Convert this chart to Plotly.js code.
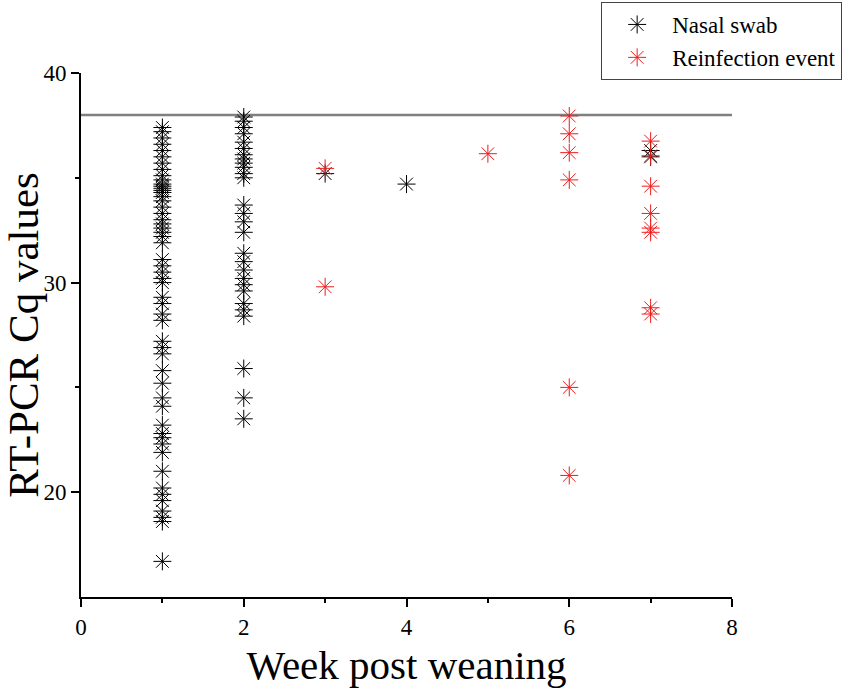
<!DOCTYPE html>
<html>
<head>
<meta charset="utf-8">
<script src="https://cdn.plot.ly/plotly-3.0.1.min.js"></script>
<style>html,body{margin:0;padding:0;background:#fff;}#chart{width:851px;height:694px;}</style>
</head>
<body>
<div id="chart"></div>
<script>
// Nasal swab (black) values by week
const week1Cq = [37.4, 37.2, 36.9, 36.6, 36.3, 36.0, 35.7, 35.4, 35.1, 34.9, 34.7, 34.6, 34.5, 34.4, 34.3, 34.1, 33.9, 33.6, 33.3, 33.0, 32.8, 32.6, 32.4, 32.2, 31.9,
  31.1, 30.8, 30.5, 30.2, 30.0, 29.3, 29.0, 28.5, 28.2,
  27.2, 26.9, 26.6, 25.8, 25.2, 24.5, 24.1,
  23.2, 22.8, 22.6, 22.3, 21.9, 21.0, 20.2, 19.9, 19.6, 19.1, 18.8, 18.6, 16.7];
const week2Cq = [37.9, 37.7, 37.4, 37.1, 36.7, 36.4, 36.1, 35.9, 35.7, 35.5, 35.2, 35.0,
  33.7, 33.3, 32.9, 32.4,
  31.4, 31.0, 30.6, 30.2, 29.9, 29.6, 29.0, 28.7, 28.4,
  25.9, 24.5, 23.5];
const nasalOtherWeeks = [3, 4, 7, 7];
const nasalOtherCq = [35.2, 34.7, 36.3, 36.0];

// Reinfection events (red)
const reinfWeeks = [3, 3, 5, 6, 6, 6, 6, 6, 6, 7, 7, 7, 7, 7, 7, 7, 7];
const reinfCq = [35.45, 29.8, 36.15, 37.95, 37.1, 36.2, 34.9, 25.0, 20.8, 36.75, 36.05, 34.6, 33.3, 32.6, 32.4, 28.8, 28.5];

const thresholdCq = 38;
const xTicks = [0, 2, 4, 6, 8];
const yTicks = [20, 30, 40];

const nasalX = week1Cq.map(() => 1).concat(week2Cq.map(() => 2), nasalOtherWeeks);
const nasalY = week1Cq.concat(week2Cq, nasalOtherCq);

const font = "Liberation Serif";

const traces = [
  {
    x: nasalX, y: nasalY, mode: 'markers', type: 'scatter', name: 'Nasal swab',
    marker: {symbol: 'asterisk-open', size: 15, color: '#000', line: {color: '#111', width: 1}},
    cliponaxis: false
  },
  {
    x: reinfWeeks, y: reinfCq, mode: 'markers', type: 'scatter', name: 'Reinfection event',
    marker: {symbol: 'asterisk-open', size: 15, color: '#ee1c1c', line: {color: '#ee2020', width: 1}},
    cliponaxis: false
  }
];

const layout = {
  width: 851, height: 694,
  margin: {l: 81, r: 119, t: 73, b: 97, autoexpand: false},
  paper_bgcolor: '#fff', plot_bgcolor: '#fff',
  font: {family: font, size: 23, color: '#000'},
  showlegend: true,
  legend: {
    x: 0.799, y: 1.1355, xref: 'paper', yref: 'paper', xanchor: 'left', yanchor: 'top',
    bgcolor: '#fff', bordercolor: '#444', borderwidth: 1,
    font: {family: font, size: 23},
    itemwidth: 60, tracegroupgap: 0
  },
  xaxis: {
    range: [0, 8], tickmode: 'array', tickvals: xTicks, ticktext: xTicks.map(String),
    showgrid: false, zeroline: false, showline: true, linecolor: '#000', linewidth: 2,
    ticks: 'outside', ticklen: 8, tickwidth: 2, tickcolor: '#000',
    minor: {dtick: 1, ticks: 'outside', ticklen: 4, tickwidth: 2, tickcolor: '#000'},
    title: {text: 'Week post weaning', font: {size: 41}, standoff: 12}
  },
  yaxis: {
    range: [15, 40], tickmode: 'array', tickvals: yTicks, ticktext: yTicks.map(String),
    showgrid: false, zeroline: false, showline: true, linecolor: '#000', linewidth: 2,
    ticks: 'outside', ticklen: 8, tickwidth: 2, tickcolor: '#000',
    minor: {tickvals: [25, 35], ticks: 'outside', ticklen: 4, tickwidth: 2, tickcolor: '#000'},
    title: {text: 'RT-PCR Cq values', font: {size: 43}, standoff: 6}
  },
  shapes: [{
    type: 'line', xref: 'paper', x0: 0, x1: 1, yref: 'y', y0: thresholdCq, y1: thresholdCq,
    line: {color: '#808080', width: 2.5}, layer: 'below'
  }]
};

Plotly.newPlot('chart', traces, layout, {displayModeBar: false, staticPlot: true});
</script>
</body>
</html>
